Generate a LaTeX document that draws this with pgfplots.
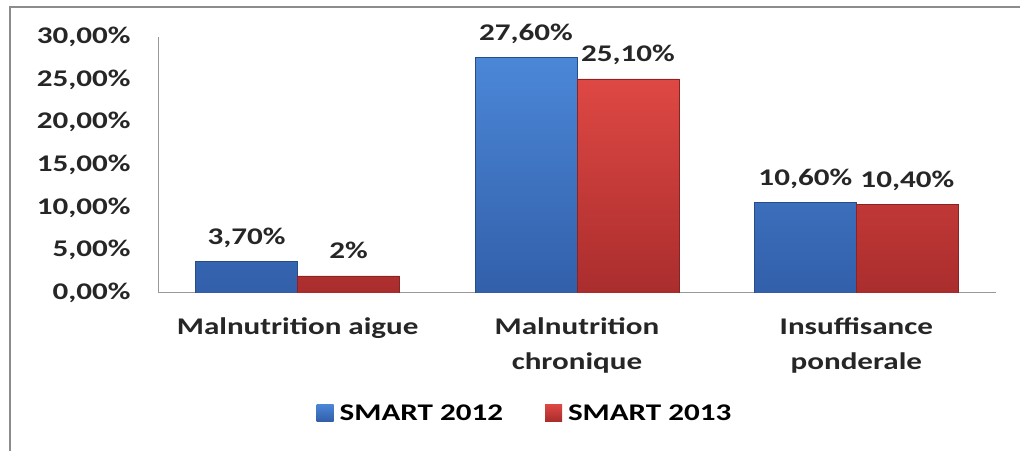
\documentclass[border=0pt]{standalone}
\usepackage{fontspec}
\setmainfont{Carlito}[FakeStretch=1.3]
\usepackage{pgfplots}
\usepackage{pgfplotstable}
\pgfplotsset{compat=1.18}
\definecolor{bluetop}{RGB}{75,135,215}
\definecolor{bluebot}{RGB}{50,95,170}
\definecolor{redtop}{RGB}{222,72,68}
\definecolor{redbot}{RGB}{170,45,45}
\definecolor{framegray}{RGB}{140,140,140}
\pgfplotstableread{
x y lab
0 3.7 {3,70\%}
1 27.6 {27,60\%}
2 10.6 {10,60\%}
}\tA
\pgfplotstableread{
x y lab
0 2.0 {2\%}
1 25.1 {25,10\%}
2 10.4 {10,40\%}
}\tB
\begin{document}
\begin{tikzpicture}
\useasboundingbox (0bp,0bp) rectangle (1020bp,451bp);
\draw[framegray, line width=1.5bp] (10bp,0bp) -- (10bp,444bp) -- (1020bp,444bp);
\begin{axis}[
  at={(158bp,158bp)}, anchor=south west, scale only axis,
  width=838bp, height=256bp,
  xmin=-0.5, xmax=2.5, ymin=0, ymax=30,
  ybar=0pt, bar width=102bp,
  axis x line*=bottom, axis y line*=left,
  axis line style={black!40, line width=1bp},
  xtick={0,1,2},
  xticklabels={{Malnutrition aigue},{Malnutrition\\chronique},{Insuffisance\\ponderale}},
  ytick={0,5,10,15,20,25,30},
  yticklabels={{0,00\%},{5,00\%},{10,00\%},{15,00\%},{20,00\%},{25,00\%},{30,00\%}},
  major tick length=0pt,
  tick label style={font=\fontsize{24}{35}\selectfont\bfseries, text=black!85},
  xticklabel style={align=center, anchor=north, yshift=-21bp},
  yticklabel style={anchor=east, xshift=-24bp},
  point meta=explicit symbolic,
  nodes near coords,
  every node near coord/.append style={font=\fontsize{24}{28}\selectfont\bfseries, text=black!85, anchor=base, yshift=17bp},
  legend style={at={(0.438,-0.469)}, anchor=center, draw=none, fill=none,
    legend columns=2, font=\fontsize{24}{28}\selectfont\bfseries,
    /tikz/every odd column/.append style={column sep=4bp},
    /tikz/every even column/.append style={column sep=40bp}},
  legend image code/.code={\path[#1, draw=none] (0bp,-8bp) rectangle (17bp,9bp);},
]
\addplot[top color=bluetop, bottom color=bluebot, draw=bluebot!80!black] table[x=x,y=y,meta=lab]{\tA};
\addplot[top color=redtop, bottom color=redbot, draw=redbot!80!black] table[x=x,y=y,meta=lab]{\tB};
\legend{SMART 2012, SMART 2013}
\end{axis}
\end{tikzpicture}
\end{document}
